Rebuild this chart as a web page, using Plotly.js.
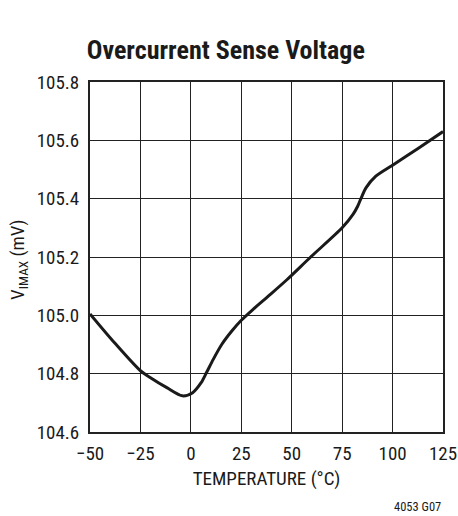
<!DOCTYPE html>
<html>
<head>
<meta charset="utf-8">
<script src="https://cdn.plot.ly/plotly-3.0.1.min.js"></script>
<style>html,body{margin:0;padding:0;background:#fff;}#chart{width:458px;height:516px;}</style>
</head>
<body>
<div id="chart"></div>
<script>
const temperatureC = [-50, -37.6, -25, -20.4, -11.9, -4.2, 0.9, 5.1, 7.7, 11.1, 15.3, 20.4, 25, 30.6, 39.1, 47.6, 59.4, 75, 80.3, 82.7, 84.3, 86.8, 91.7, 100, 113, 125];
const vImaxMv = [105.005, 104.904, 104.810, 104.788, 104.752, 104.724, 104.735, 104.769, 104.803, 104.849, 104.900, 104.947, 104.983, 105.019, 105.070, 105.122, 105.200, 105.300, 105.345, 105.374, 105.400, 105.437, 105.477, 105.515, 105.574, 105.630];
const xTickVals = [-50, -25, 0, 25, 50, 75, 100, 125];
const xTickText = ['\u221250', '\u221225', '0', '25', '50', '75', '100', '125'];
const yTickVals = [104.6, 104.8, 105.0, 105.2, 105.4, 105.6, 105.8];
const yTickText = ['104.6', '104.8', '105.0', '105.2', '105.4', '105.6', '105.8'];

const FONT = '"Liberation Sans Narrow", "Arial Narrow", "Roboto Condensed", "Liberation Sans", Arial, sans-serif';

const trace = {
  x: temperatureC, y: vImaxMv, type: 'scatter', mode: 'lines',
  line: {color: '#1a1a1a', width: 3, shape: 'spline', smoothing: 0.8},
  hoverinfo: 'skip'
};

const layout = {
  width: 458, height: 516,
  margin: {l: 90, r: 15, t: 82, b: 84},
  paper_bgcolor: '#fff', plot_bgcolor: '#fff',
  showlegend: false,
  font: {family: FONT, color: '#1a1a1a', size: 19},
  title: {text: '<b>Overcurrent Sense Voltage</b>', x: 0.493, xanchor: 'center', y: 0.904, yanchor: 'middle',
          font: {family: FONT, size: 26, color: '#1a1a1a'}},
  xaxis: {
    range: [-50, 125], tickmode: 'array', tickvals: xTickVals, ticktext: xTickText,
    showgrid: true, gridcolor: '#222', gridwidth: 1, zeroline: false,
    showline: true, mirror: true, linecolor: '#222', linewidth: 2,
    ticks: '', ticklabelstandoff: 3, tickfont: {size: 19},
    title: {text: 'TEMPERATURE (\u00B0C)', standoff: 8, font: {size: 19}}
  },
  yaxis: {
    range: [104.6, 105.8], tickmode: 'array', tickvals: yTickVals, ticktext: yTickText,
    showgrid: true, gridcolor: '#222', gridwidth: 1, zeroline: false,
    showline: true, mirror: true, linecolor: '#222', linewidth: 2,
    ticks: '', ticklabelstandoff: 5, tickfont: {size: 19}
  },
  annotations: [{
    text: 'V<sub>IMAX</sub> (mV)', textangle: -90, xref: 'paper', yref: 'paper',
    x: (18 - 90) / 353, y: (432 - 260) / 350, xanchor: 'center', yanchor: 'middle',
    showarrow: false, font: {family: FONT, size: 19, color: '#1a1a1a'}
  }, {
    text: '4053 G07', xref: 'paper', yref: 'paper', x: 1.0, y: -0.212, xanchor: 'right', yanchor: 'middle',
    showarrow: false, font: {family: FONT, size: 12.5, color: '#1a1a1a'}
  }]
};

Plotly.newPlot('chart', [trace], layout, {displayModeBar: false, staticPlot: true});
</script>
</body>
</html>
